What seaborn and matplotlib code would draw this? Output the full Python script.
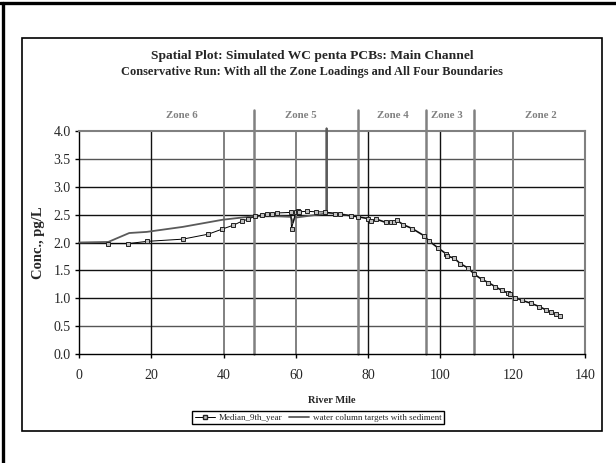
import matplotlib
matplotlib.use("Agg")
import matplotlib.pyplot as plt
import seaborn as sns
import pandas as pd
from matplotlib.lines import Line2D
from matplotlib.patches import Rectangle

# ---- data ----
median_x = [8.1, 13.6, 18.7, 28.7, 35.8, 39.6, 42.7, 45.0, 46.8, 48.7, 50.5, 51.9, 53.4, 54.9,
            58.6, 58.8, 60.0, 60.5, 60.8, 63.2, 65.6, 68.0, 70.9, 72.2, 75.2, 77.3, 79.9, 80.8,
            82.2, 84.9, 86.3, 87.1, 87.9, 89.7, 92.2, 95.5, 96.8, 99.2, 101.5, 101.7, 103.8,
            105.5, 107.7, 109.4, 111.4, 113.3, 115.1, 117.0, 118.8, 119.2, 120.7, 122.7, 125.0,
            127.4, 129.2, 130.7, 132.0, 133.1]
median_y = [1.98, 1.98, 2.02, 2.06, 2.15, 2.24, 2.31, 2.38, 2.42, 2.47, 2.49, 2.51, 2.52, 2.53,
            2.54, 2.25, 2.55, 2.56, 2.55, 2.56, 2.55, 2.55, 2.52, 2.51, 2.48, 2.46, 2.43, 2.38,
            2.42, 2.36, 2.36, 2.37, 2.40, 2.32, 2.25, 2.12, 2.03, 1.91, 1.80, 1.76, 1.72,
            1.62, 1.54, 1.43, 1.34, 1.28, 1.21, 1.14, 1.09, 1.07, 1.01, 0.96, 0.91,
            0.85, 0.79, 0.75, 0.71, 0.68]

target_x = [0.0, 8.1, 13.9, 18.7, 28.7, 39.9, 48.2, 54.9, 58.6, 59.2, 59.8, 60.3, 68.4, 68.5, 68.6,
            70.9, 72.2, 75.2, 77.3, 79.9, 80.8, 82.2, 84.9, 86.3, 87.1, 87.9, 89.7, 92.2, 95.5,
            96.8, 99.2, 101.5, 101.7, 103.8, 105.5, 107.7, 109.4, 111.4, 113.3, 115.1, 117.0,
            118.8, 119.2, 120.7, 122.7, 125.0, 127.4, 129.2, 130.7, 132.0, 133.1]
target_y = [2.00, 2.01, 2.17, 2.19, 2.28, 2.41, 2.47, 2.47, 2.46, 2.36, 2.46, 2.45, 2.52, 4.05, 2.53,
            2.52, 2.51, 2.48, 2.46, 2.43, 2.38, 2.42, 2.36, 2.36, 2.37, 2.40, 2.32, 2.25, 2.12,
            2.03, 1.91, 1.80, 1.76, 1.72, 1.62, 1.54, 1.43, 1.34, 1.28, 1.21, 1.14,
            1.09, 1.07, 1.01, 0.96, 0.91, 0.85, 0.79, 0.75, 0.71, 0.68]

zone_bounds = [48.4, 77.2, 96.0, 109.3]
zone_labels = ["Zone 6", "Zone 5", "Zone 4", "Zone 3", "Zone 2"]
zone_label_x = [28.5, 61.5, 86.9, 101.8, 127.8]

title = "Spatial Plot: Simulated WC penta PCBs: Main Channel"
subtitle = "Conservative Run: With all the Zone Loadings and All Four Boundaries"

# ---- style ----
sns.set_style("white")
plt.rcParams['font.family'] = ['Liberation Serif', 'DejaVu Serif']

W, H = 616, 463
fig = plt.figure(figsize=(W / 100, H / 100), dpi=100)
ax = fig.add_axes([79 / W, 1 - 354 / H, (585 - 79) / W, (354 - 131) / H])

ax.set_xlim(0, 140)
ax.set_ylim(0, 4.0)
ax.set_xticks(range(0, 141, 20))
ax.set_yticks([i * 0.5 for i in range(9)])
ax.set_yticklabels([f"{i * 0.5:.1f}" for i in range(9)])

# grid lines
for yv in [0.5, 1.0, 1.5, 2.0, 2.5, 3.0, 3.5]:
    c = '#555555' if yv in (0.5, 3.5) else '#111111'
    ax.axhline(yv, color=c, lw=1.0, zorder=1)
for xv in [20, 80, 100]:
    ax.axvline(xv, color='#111111', lw=1.0, zorder=1)
for xv in [40, 60, 120]:
    ax.axvline(xv, color='#808080', lw=1.4, zorder=1)
for xb in zone_bounds:
    ax.axvline(xb, ymin=0, ymax=4.38 / 4.0, color='#808080', lw=1.8, zorder=1, clip_on=False)

df_t = pd.DataFrame({"x": target_x, "y": target_y})
df_m = pd.DataFrame({"x": median_x, "y": median_y})

sns.lineplot(data=df_t, x="x", y="y", ax=ax, color='#5a5a5a', lw=1.3, sort=False,
             estimator=None, zorder=3, clip_on=False)
sns.lineplot(data=df_m, x="x", y="y", ax=ax, color='#000000', lw=0.7, sort=False,
             estimator=None, marker='s', markersize=3.4, markerfacecolor='#c0c0c0',
             markeredgecolor='#222222', markeredgewidth=0.7, zorder=4)

for lab, lx in zip(zone_labels, zone_label_x):
    ax.text(lx, 4.27, lab, ha='center', va='center', fontsize=7.8, fontweight='bold',
            color='#808080')

for s in ['left', 'bottom']:
    ax.spines[s].set_color('black')
    ax.spines[s].set_linewidth(1.0)
for s in ['top', 'right']:
    ax.spines[s].set_color('#808080')
    ax.spines[s].set_linewidth(1.5)

ax.tick_params(axis='both', direction='out', length=3, width=1.0, color='black',
               labelsize=10, left=True, bottom=True)
ax.tick_params(axis='x', pad=8)
ax.tick_params(axis='y', pad=3)
ax.set_xlabel("River Mile", fontsize=7.5, fontweight='bold', labelpad=10)
ax.set_ylabel("Conc., pg/L", fontsize=10.5, fontweight='bold', labelpad=6)

fig.text(312 / W, 1 - 56 / H, title, ha='center', va='center', fontsize=9.7, fontweight='bold')
fig.text(312 / W, 1 - 72.5 / H, subtitle, ha='center', va='center', fontsize=8.9, fontweight='bold')

handles = [
    Line2D([], [], color='black', lw=0.7, marker='s', markersize=3.4,
           markerfacecolor='#c0c0c0', markeredgecolor='#222222'),
    Line2D([], [], color='#5a5a5a', lw=1.3),
]
leg = fig.legend(handles, ["Median_9th_year", "water column targets with sediment"],
                 loc='center', bbox_to_anchor=(318 / W, 1 - 417.5 / H), ncol=2,
                 fontsize=6.5, frameon=True, fancybox=False, framealpha=1,
                 edgecolor='black', handlelength=2.2, handletextpad=0.4,
                 columnspacing=0.8, borderpad=0.3)
leg.get_frame().set_linewidth(1.0)

# inner chart box
fig.add_artist(Rectangle((22 / W, 1 - 431 / H), (602 - 22) / W, (431 - 38) / H,
                         transform=fig.transFigure, fill=False, edgecolor='black', lw=1.2))
# outer frame lines (top and left)
fig.add_artist(Line2D([0, 1], [1 - 3 / H, 1 - 3 / H], transform=fig.transFigure,
                      color='black', lw=2.4))
fig.add_artist(Line2D([3 / W, 3 / W], [0, 1 - 3 / H], transform=fig.transFigure,
                      color='black', lw=2.4))

fig.savefig("out.png", dpi=100)
